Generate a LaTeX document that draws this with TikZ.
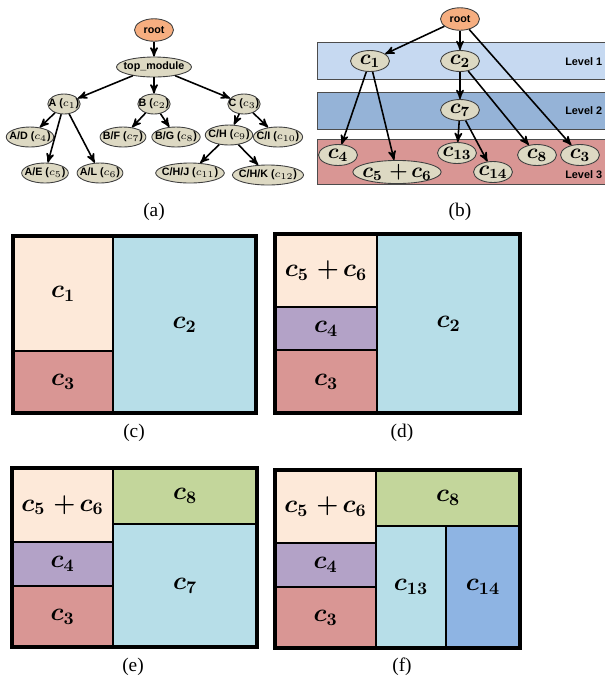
\documentclass[tikz,border=0pt]{standalone}
\usepackage{fontspec}
\usepackage{bm}
\setsansfont{Liberation Sans}
\newfontfamily\capfont{Liberation Serif}
\usepackage{tikz}
\usetikzlibrary{positioning}
\usetikzlibrary{shapes.geometric,arrows}
\definecolor{modfill}{HTML}{DDD9C3}
\definecolor{rootfill}{HTML}{F6AE80}
\definecolor{lvlone}{HTML}{C6D9F1}
\definecolor{lvltwo}{HTML}{95B3D7}
\definecolor{lvlthree}{HTML}{D99694}
\definecolor{peach}{HTML}{FDE9D9}
\definecolor{sky}{HTML}{B7DEE8}
\definecolor{rose}{HTML}{D99694}
\definecolor{lilac}{HTML}{B3A2C7}
\definecolor{olive}{HTML}{C3D69B}
\definecolor{cobalt}{HTML}{8EB4E3}
\tikzset{
  modnode/.style = {ellipse, draw=black!75, fill=modfill, line width=0.5pt,
    inner ysep=0pt, align=center},
  mod_n/.style = {modnode, inner xsep=-2.2pt, minimum height=0.4cm,
    font=\sffamily\bfseries\fontsize{6.1}{7}\selectfont},% noeud module
  mod_r/.style = {mod_n, fill=rootfill, inner xsep=1pt,
    minimum width=0.78cm, minimum height=0.45cm},% racine
  clu_n/.style = {modnode, inner xsep=-2pt, minimum width=0.78cm,
    minimum height=0.42cm, font=\fontsize{12}{14}\selectfont},% noeud cluster
  lvl_b/.style = {draw=black!70, line width=0.5pt},% bande de niveau
  lvl_t/.style = {anchor=east, inner sep=0pt,
    font=\sffamily\bfseries\fontsize{6.2}{7}\selectfont},
  cell/.style = {draw=black, line width=1.5pt},% case du plan
  outerbox/.style = {draw=black, line width=2.2pt},
  lab/.style = {font=\fontsize{14}{16}\selectfont},
  captxt/.style = {font=\capfont\fontsize{11}{13}\selectfont}
}
\newcommand{\cfivesix}{$\bm{c_5\ {+}\,c_6}$}

\begin{document}
\begin{tikzpicture}[x=0.02cm,y=-0.02cm,->,>=stealth',line width=0.9pt]
\useasboundingbox (0,0) rectangle (605,681);

% (a) arbre des modules
\node [mod_r] (root) at (154,30) {root};
\node [mod_n] (top) at (154,67) {top\_module};
\node [mod_n] (A) at (64,104) {A ($c_1$)};
\node [mod_n] (B) at (154,104) {B ($c_2$)};
\node [mod_n] (C) at (244,104) {C ($c_3$)};
\node [mod_n] (AD) at (30,137) {A/D ($c_4$)};
\node [mod_n] (AE) at (45,173) {A/E ($c_5$)};
\node [mod_n] (AL) at (100,173) {A/L ($c_6$)};
\node [mod_n] (BF) at (123,137) {B/F ($c_7$)};
\node [mod_n] (BG) at (176,137) {B/G ($c_8$)};
\node [mod_n] (CH) at (229,135) {C/H ($c_9$)};
\node [mod_n] (CI) at (278,137) {C/I ($c_{10}$)};
\node [mod_n] (CHJ) at (190,173) {C/H/J ($c_{11}$)};
\node [mod_n] (CHK) at (268,175) {C/H/K ($c_{12}$)};
\draw (root) -- (top);
\draw (top) -- (A);
\draw (top) -- (B);
\draw (top) -- (C);
\draw (A) -- (AD);
\draw (A) -- (AE);
\draw (A) -- (AL);
\draw (B) -- (BF);
\draw (B) -- (BG);
\draw (C) -- (CH);
\draw (C) -- (CI);
\draw (CH) -- (CHJ);
\draw (CH) -- (CHK);
\node [captxt] (capa) at (154,212) {(a)};

% (b) niveaux
\draw [lvl_b, -, fill=lvlone] (317,42) rectangle (606,79);
\draw [lvl_b, -, fill=lvltwo] (317,92) rectangle (606,129);
\draw [lvl_b, -, fill=lvlthree] (317,139) rectangle (606,184);
\node [lvl_t] (lv1) at (603,62) {Level 1};
\node [lvl_t] (lv2) at (603,111) {Level 2};
\node [lvl_t] (lv3) at (603,175) {Level 3};
\node [mod_r] (broot) at (460,19) {root};
\node [clu_n] (b1) at (370,61) {$\bm{c_1}$};
\node [clu_n] (b2) at (460,61) {$\bm{c_2}$};
\node [clu_n] (b7) at (460,110) {$\bm{c_7}$};
\node [clu_n] (b4) at (338,155) {$\bm{c_4}$};
\node [clu_n] (b56) at (397,172) {\cfivesix};
\node [clu_n] (b13) at (457,153) {$\bm{c_{13}}$};
\node [clu_n] (b14) at (493,172) {$\bm{c_{14}}$};
\node [clu_n] (b8) at (537,155) {$\bm{c_8}$};
\node [clu_n] (b3) at (580,155) {$\bm{c_3}$};
\draw (broot) -- (b1);
\draw (broot) -- (b2);
\draw (broot) -- (b3);
\draw (b1) -- (b4);
\draw (b1) -- (b56);
\draw (b2) -- (b7);
\draw (b2) -- (b8);
\draw (b7) -- (b13);
\draw (b7) -- (b14);
\node [captxt] (capb) at (460,212) {(b)};

\begin{scope}[-]
% (c)
\draw [cell, fill=peach] (13,236) rectangle node[lab] (pc1) {$\bm{c_1}$} (113,351);
\draw [cell, fill=rose] (13,351) rectangle node[lab] (pc3) {$\bm{c_3}$} (113,413);
\draw [cell, fill=sky] (113,236) rectangle node[lab] (pc2) {$\bm{c_2}$} (256,413);
\draw [outerbox] (13,236) rectangle (256,413);
\node [captxt] (capc) at (134,433) {(c)};

% (d)
\draw [cell, fill=peach] (275,234) rectangle node[lab] (pd56) {\cfivesix} (377,307);
\draw [cell, fill=lilac] (275,307) rectangle node[lab] (pd4) {$\bm{c_4}$} (377,350);
\draw [cell, fill=rose] (275,350) rectangle node[lab] (pd3) {$\bm{c_3}$} (377,413);
\draw [cell, fill=sky] (377,234) rectangle node[lab] (pd2) {$\bm{c_2}$} (520,413);
\draw [outerbox] (275,234) rectangle (520,413);
\node [captxt] (capd) at (402,433) {(d)};

% (e)
\draw [cell, fill=peach] (12,468) rectangle node[lab] (pe56) {\cfivesix} (113,542);
\draw [cell, fill=lilac] (12,542) rectangle node[lab] (pe4) {$\bm{c_4}$} (113,586);
\draw [cell, fill=rose] (12,586) rectangle node[lab] (pe3) {$\bm{c_3}$} (113,647);
\draw [cell, fill=olive] (113,468) rectangle node[lab] (pe8) {$\bm{c_8}$} (257,524);
\draw [cell, fill=sky] (113,524) rectangle node[lab] (pe7) {$\bm{c_7}$} (257,647);
\draw [outerbox] (12,468) rectangle (257,647);
\node [captxt] (cape) at (133,667) {(e)};

% (f)
\draw [cell, fill=peach] (275,470) rectangle node[lab] (pf56) {\cfivesix} (376,543);
\draw [cell, fill=lilac] (275,543) rectangle node[lab] (pf4) {$\bm{c_4}$} (376,587);
\draw [cell, fill=rose] (275,587) rectangle node[lab] (pf3) {$\bm{c_3}$} (376,648);
\draw [cell, fill=olive] (376,470) rectangle node[lab] (pf8) {$\bm{c_8}$} (520,526);
\draw [cell, fill=sky] (376,526) rectangle node[lab] (pf13) {$\bm{c_{13}}$} (446,648);
\draw [cell, fill=cobalt] (446,526) rectangle node[lab] (pf14) {$\bm{c_{14}}$} (520,648);
\draw [outerbox] (275,470) rectangle (520,648);
\node [captxt] (capf) at (402,667) {(f)};
\end{scope}
\end{tikzpicture}
\end{document}
